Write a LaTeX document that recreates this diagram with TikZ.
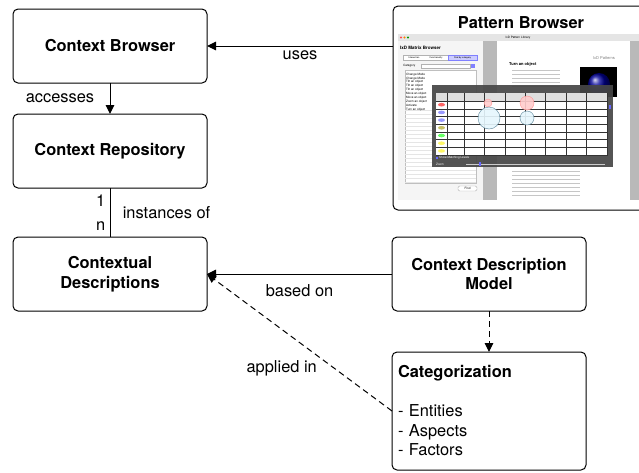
\documentclass[tikz,border=0pt]{standalone}
\usepackage{fontspec}
\setmainfont{TeX Gyre Heros}
\usetikzlibrary{
  arrows.meta,
  calc,
  positioning,
}
\tikzset{
node distance=31pt,
  x = 1pt,
  y = 1pt,
  n/.style={
    draw, line width=1pt, rounded corners=5pt,
    minimum width=194pt, minimum height=74pt,
    inner sep=0pt, outer sep=0pt, align=center,
    font=\fontsize{16.4}{19.5}\selectfont\bfseries,
  },
  lbl/.style={font=\fontsize{16.4}{19.5}\selectfont},
  tiny/.style={font=\fontsize{3}{3.6}\selectfont, inner sep=0pt},
  >={Triangle[length=9pt,width=8.5pt]},
  rel/.style={->, line width=1pt},
  dep/.style={->, line width=1pt, dash pattern=on 6pt off 4pt},
}
\begin{document}
\begin{tikzpicture}
  \useasboundingbox (0,0) rectangle (639,-472);
  \node[n](CB) at (110,-46){Context Browser};
  \node[n, below=of CB](CR){Context Repository};
  \node[n, below=49pt of CR](CD){Contextual\\Descriptions};
  \node[n, right=185pt of CD](CDM){Context Description\\Model};
  \node[n, below=41pt of CDM, minimum height=118pt, text width=182pt,
    inner xsep=6pt, align=left, font=\fontsize{16.4}{19.5}\selectfont](Cat)
    {\textbf{Categorization}\\[19.5pt]{-} Entities\\{-} Aspects\\{-} Factors};
  %%
  \node[n, anchor=north west, minimum width=256pt, minimum height=204pt](PB) at (393,-6){};
  \node[n, draw=none, minimum width=0pt, minimum height=0pt, below=11pt of PB.north](PBtitle){Pattern Browser};
  %% screenshot of the browser
  \fill[gray!20](398,-34) rectangle (645,-41);
  \foreach \c/\x in {red!70/401, orange/404.5, green!60!black/408}
    \fill[\c](\x,-37.5) circle (1.2);
  \node[tiny] at (518,-37.5){IxD Pattern Library};
  \fill[gray!8](398,-41) rectangle (483,-200);
  \node[tiny, anchor=west, font=\fontsize{4.5}{5}\selectfont\bfseries] at (400,-48){IxD Matrix Browser};
  \draw[gray!60, fill=white](403,-55) rectangle (448,-60);
  \draw[blue!50, fill=blue!20](448,-55) rectangle (477,-60);
  \node[tiny, font=\fontsize{2.3}{3}\selectfont] at (414,-57.5){Interaction};
  \node[tiny, font=\fontsize{2.3}{3}\selectfont] at (436,-57.5){Functionality};
  \node[tiny, font=\fontsize{2.3}{3}\selectfont] at (462.5,-57.5){Find by category};
  \node[tiny, anchor=west] at (403,-66){Category};
  \draw[gray!60, fill=white](421,-64) rectangle (470,-68);
  \fill[blue!50](471,-64) rectangle (475,-68);
  \draw[gray!50, fill=white](405,-70) rectangle (476,-183);
  \foreach \y in {110,114,...,182}
    \draw[gray!20](405,-\y) -- (476,-\y);
  \foreach \t [count=\i] in {Change Mode, Change Mode, Tilt an object, Tilt an object,
      Tilt an object, Move an object, Move an object, Zoom an object, Activate, Turn an object}
    \node[tiny, anchor=west] at (406,-70.5-\i*3.9){\t};
  \draw[gray!60, fill=white, rounded corners=1.5pt](458,-186) rectangle (477,-191);
  \node[tiny] at (467.5,-188.5){Find};
  %%
  \fill[gray!55](483,-41) rectangle (497,-200);
  \fill[gray!55](630,-41) rectangle (645,-200);
  \node[tiny, gray, font=\fontsize{4}{4.5}\selectfont] at (604,-58){IxD Patterns};
  \node[tiny, anchor=west, font=\fontsize{4}{4.5}\selectfont\bfseries] at (509,-64){Turn an object};
  \foreach \y in {70,74,...,86}
    \draw[gray!45, line width=.8pt](512,-\y) -- (560,-\y);
  \foreach \y in {171,175,...,197}
    \draw[gray!45, line width=.8pt](512,-\y) -- (580,-\y);
  \fill[black](580,-67) rectangle (617,-97);
  \shade[ball color=blue!60!black](599,-84) circle (11);
  %% matrix window
  \fill[black!72, opacity=.93](432,-85) rectangle (613,-167);
  \fill[white](436,-93) rectangle (608,-155);
  \fill[gray!25](436,-93) rectangle (608,-101);
  \foreach \x in {447,464,484.4,...,607}
    \draw[black!80, line width=.4pt](\x,-93) -- (\x,-155);
  \foreach \y in {101,108.7,...,155}
    \draw[black!80, line width=.4pt](436,-\y) -- (608,-\y);
  \foreach \c [count=\i] in {red!60, blue!40, blue!40, olive!50, green!60, yellow!60, yellow!60}
    \fill[\c](441.5,-97-\i*7.7) ellipse (3.5 and 1.8);
  \draw[red!45, fill=red!20, opacity=.9](488,-103) circle (4);
  \draw[red!45, fill=red!20, opacity=.9](527,-103) circle (7);
  \draw[cyan!50!black, fill=cyan!10, opacity=.9](489,-118) circle (11);
  \draw[cyan!50!black, fill=cyan!10, opacity=.9](527,-118) circle (7);
  \fill[blue!60](436,-157) rectangle (438,-159);
  \node[tiny, white, anchor=west] at (439,-158){Show Matching Levels};
  \node[tiny, white, anchor=west] at (436,-164){Zoom};
  \draw[gray!40, line width=1pt](466,-164) -- (605,-164);
  \fill[blue!60](479,-162) rectangle (481,-166);
  \fill[blue!60](608.5,-105) rectangle (611,-109);
  %%
  \draw[rel](CB.east -| PB.west) -- node[lbl, below=1pt]{uses} (CB.east);
  \draw[rel](CB) -- node[lbl, left=12pt]{accesses} (CR);
  \draw[line width=1pt](CR) -- node[lbl, pos=.25, left=1pt]{1}
    node[lbl, pos=.78, left=1pt]{n} node[lbl, right=9pt]{instances of} (CD);
  \draw[rel](CDM) -- node[lbl, below=7pt]{based on} (CD);
  \draw[dep](CDM) -- (Cat);
  \draw[dep](Cat.west) -- node[lbl, pos=.31, left=14pt]{applied in} (CD.east);
\end{tikzpicture}
\end{document}
